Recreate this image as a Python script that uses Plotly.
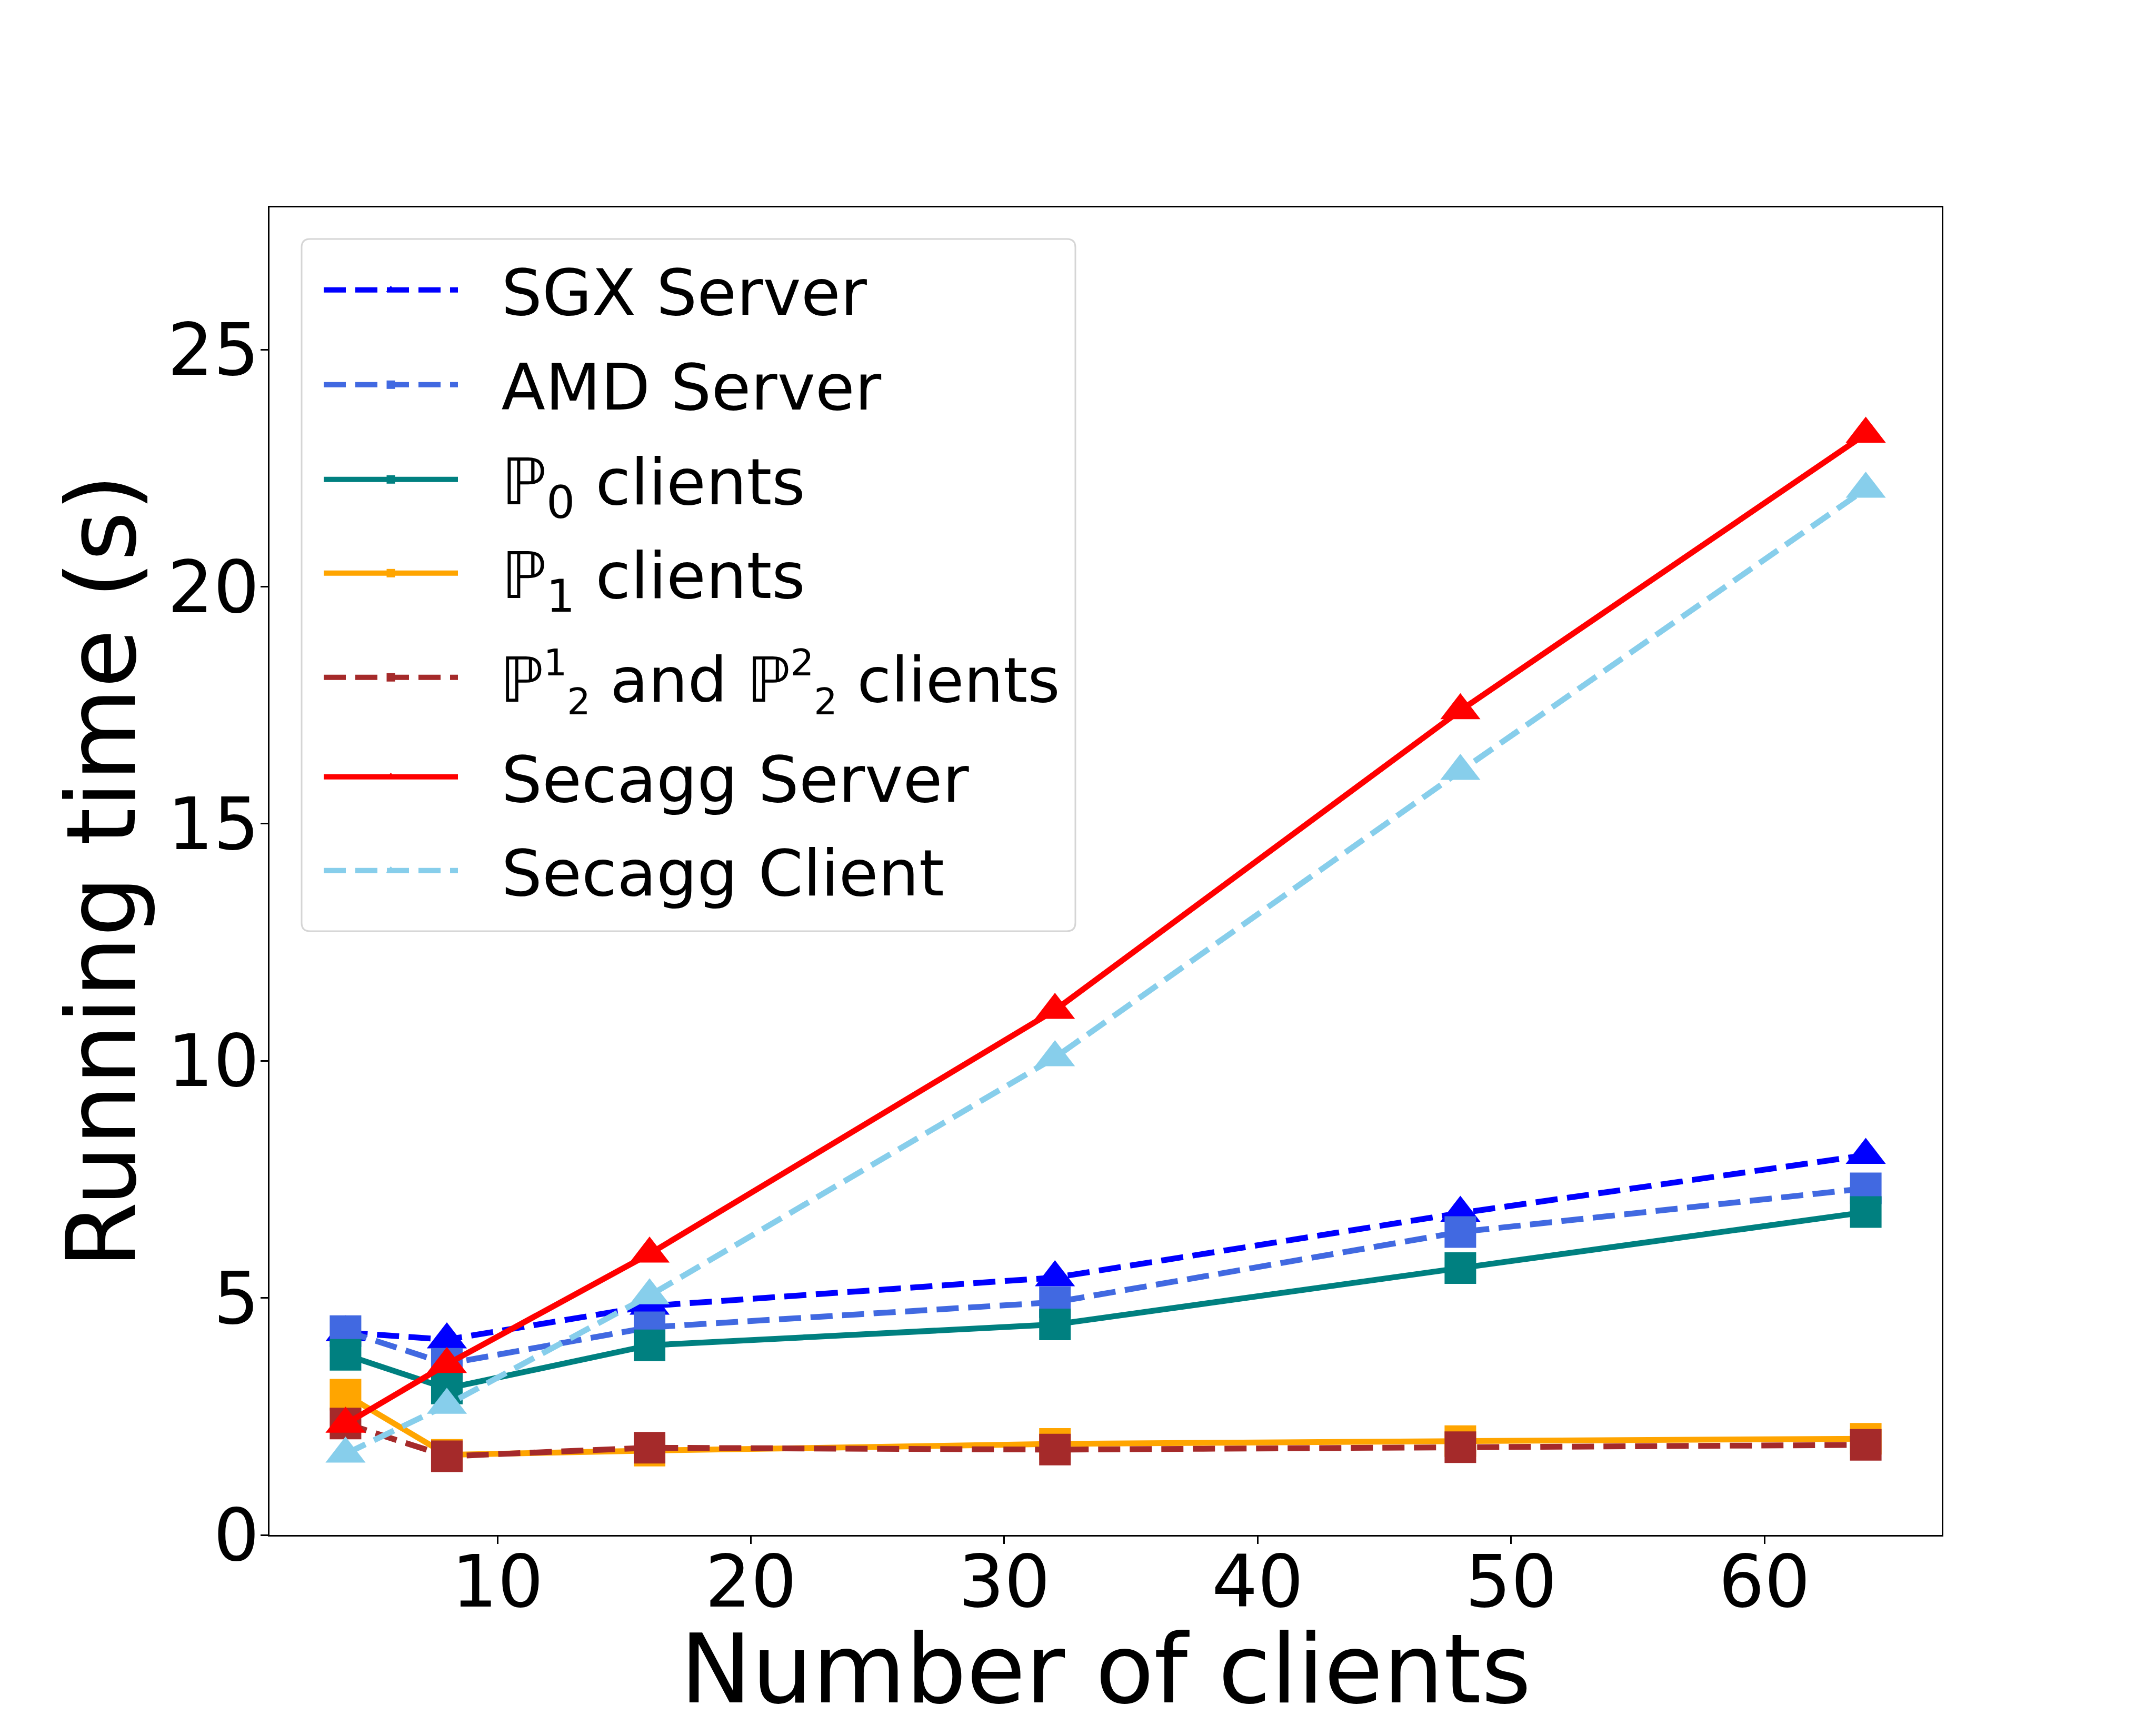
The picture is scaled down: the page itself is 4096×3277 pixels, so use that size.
import plotly.graph_objects as go

# ---- data ----
clients = [4, 8, 16, 32, 48, 64]
sgx_server = [4.27, 4.12, 4.83, 5.43, 6.79, 8.01]
amd_server = [4.30, 3.61, 4.38, 4.91, 6.39, 7.31]
p0_clients = [3.80, 3.09, 4.00, 4.44, 5.63, 6.81]
p1_clients = [2.96, 1.69, 1.78, 1.92, 1.98, 2.03]
p2_clients = [2.35, 1.66, 1.84, 1.80, 1.85, 1.90]
secagg_server = [2.34, 3.60, 5.93, 11.07, 17.39, 23.22]
secagg_client = [1.71, 2.74, 5.05, 10.07, 16.11, 22.06]

x_ticks = [10, 20, 30, 40, 50, 60]
y_ticks = [0, 5, 10, 15, 20, 25]

SC = '<span style="font-size:70px">%s</span>'
names = ["SGX Server", "AMD Server",
         "ℙ<sub>0</sub> clients",
         "ℙ<sub>1</sub> clients",
         "ℙ<sup>" + SC % "1" + "</sup><sub>" + SC % "2" + "</sub> and ℙ<sup>"
         + SC % "2" + "</sup><sub>" + SC % "2" + "</sub> clients",
         "Secagg Server", "Secagg Client"]
series = [sgx_server, amd_server, p0_clients, p1_clients, p2_clients,
          secagg_server, secagg_client]
colors = ["#0000FF", "#4169E1", "#008080", "#FFA500", "#A52A2A", "#FF0000", "#87CEEB"]
symbols = ["triangle-up", "square", "square", "square", "square", "triangle-up", "triangle-up"]
dashes = ["42px,18px", "42px,18px", "solid", "solid", "42px,18px", "solid", "42px,18px"]
legend_font_sizes = [122, 122, 122, 122, 118, 122, 122]

FONT = "DejaVu Sans"
LW = 11

W, H = 4096, 3277
L, R, T, B = 512, 3689, 394, 2916
PW, PH = R - L, B - T

def px_to_paper_x(px):
    return (px - L) / PW

def px_to_paper_y(py):
    return 1 - (py - T) / PH

# legend row centres (px in the output window)
legend_rows = [551, 731, 911, 1089, 1287, 1476, 1654]
legend_keys = ["legend"] + ["legend%d" % i for i in range(2, 8)]

fig = go.Figure()
for i, (name, ys, c, s, d) in enumerate(zip(names, series, colors, symbols, dashes)):
    fig.add_trace(go.Scatter(
        x=clients, y=ys, name="\u00a0\u00a0" + name, mode="lines+markers",
        line=dict(color=c, width=LW, dash=d),
        marker=dict(symbol=s, color=c, size=60 if s == "square" else 66,
                    line=dict(width=0)),
        legend=legend_keys[i],
    ))

layout_legends = {}
for key, row, fs in zip(legend_keys, legend_rows, legend_font_sizes):
    layout_legends[key] = dict(
        font=dict(family=FONT, size=fs, color="black"),
        bgcolor="rgba(0,0,0,0)", borderwidth=0,
        itemwidth=255, itemsizing="trace",
        xanchor="left", yanchor="middle",
        x=px_to_paper_x(610), y=px_to_paper_y(row),
    )

# legend frame (rounded rectangle)
fx0, fx1 = px_to_paper_x(573), px_to_paper_x(2043)
fy0, fy1 = px_to_paper_y(1769), px_to_paper_y(454)
rx, ry = 16 / PW, 16 / PH
frame_path = (f"M{fx0+rx},{fy1} L{fx1-rx},{fy1} Q{fx1},{fy1} {fx1},{fy1-ry} "
              f"L{fx1},{fy0+ry} Q{fx1},{fy0} {fx1-rx},{fy0} L{fx0+rx},{fy0} "
              f"Q{fx0},{fy0} {fx0},{fy0+ry} L{fx0},{fy1-ry} Q{fx0},{fy1} {fx0+rx},{fy1} Z")

fig.update_layout(
    width=W, height=H,
    margin=dict(l=L, r=W - R, t=T, b=H - B, pad=0, autoexpand=False),
    paper_bgcolor="white", plot_bgcolor="white",
    font=dict(family=FONT, color="black"),
    showlegend=True,
    shapes=[dict(type="path", xref="paper", yref="paper", path=frame_path,
                 fillcolor="rgba(255,255,255,0.8)", line=dict(color="#d5d5d5", width=3),
                 layer="above")],
    xaxis=dict(
        range=[1, 67], tickvals=x_ticks, ticktext=[str(v) for v in x_ticks],
        automargin=False,
        showgrid=False, zeroline=False,
        showline=True, linecolor="black", linewidth=3, mirror=True,
        ticks="outside", ticklen=14, tickwidth=3, tickcolor="black",
        ticklabelstandoff=-45,
        tickfont=dict(family=FONT, size=137, color="black"),
        title=dict(text="Number of clients", font=dict(family=FONT, size=182, color="black"),
                   standoff=50),
    ),
    yaxis=dict(
        range=[0, 28], tickvals=y_ticks, ticktext=[str(v) for v in y_ticks],
        automargin=False,
        showgrid=False, zeroline=False,
        showline=True, linecolor="black", linewidth=3, mirror=True,
        ticks="outside", ticklen=14, tickwidth=3, tickcolor="black",
        ticklabelstandoff=-25,
        tickfont=dict(family=FONT, size=137, color="black"),
        title=dict(text="Running time (s)", font=dict(family=FONT, size=182, color="black"),
                   standoff=0),
    ),
    **layout_legends,
)

fig.write_html("out.html")
